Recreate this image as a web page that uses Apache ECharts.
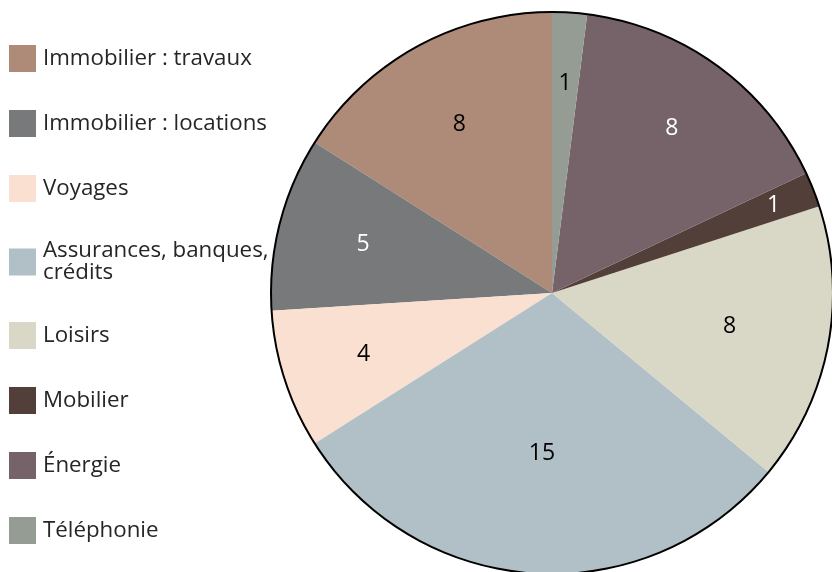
<!DOCTYPE html>
<html>
<head>
<meta charset="utf-8">
<script src="https://cdn.jsdelivr.net/npm/echarts@6/dist/echarts.min.js"></script>
<style>html,body{margin:0;padding:0;background:#fff;}#c{width:832px;height:572px;}</style>
</head>
<body>
<div id="c"></div>
<script>
const categories = ['Immobilier : travaux', 'Immobilier : locations', 'Voyages', 'Assurances, banques, crédits', 'Loisirs', 'Mobilier', 'Énergie', 'Téléphonie'];
const values = [8, 5, 4, 15, 8, 1, 8, 1];
const colors = ['#AE8B78', '#78797B', '#F9E0D0', '#B1C0C7', '#D9D8C6', '#523F39', '#756369', '#959C93'];
const labelColors = ['#000', '#fff', '#000', '#000', '#000', '#fff', '#fff', '#000'];
const labelRadius = [0.67, 0.68, 0.69, 0.56, 0.63, 0.83, 0.71, 0.73];

const CX = 552, CY = 293, R = 281;
const chart = echarts.init(document.getElementById('c'), null, {renderer: 'canvas'});
const font = '"Open Sans", "Noto Sans", sans-serif';
chart.setOption({
  animation: false,
  legend: {
    orient: 'vertical',
    left: 4,
    top: 40,
    itemWidth: 27,
    itemHeight: 27,
    itemGap: 38,
    icon: 'rect',
    data: categories,
    selectedMode: false,
    formatter: function (name) {
      return name === 'Assurances, banques, crédits' ? 'Assurances, banques,\ncrédits' : name;
    },
    textStyle: {fontFamily: font, fontSize: 22.3, color: '#262626', lineHeight: 22, padding: [0, 0, 0, 2]}
  },
  series: [
    {
      type: 'pie',
      center: [CX, CY],
      radius: [0, R],
      startAngle: 90,
      clockwise: false,
      silent: true,
      data: categories.map((n, i) => ({
        name: n, value: values[i],
        itemStyle: {color: colors[i]},
        label: {color: labelColors[i]}
      })),
      itemStyle: {borderWidth: 0},
      label: {show: true, position: 'inside', formatter: '{c}', fontFamily: font, fontSize: 23},
      labelLine: {show: false},
      labelLayout: function (p) {
        const r = p.labelRect;
        const lx = r.x + r.width / 2, ly = r.y + r.height / 2;
        const k = labelRadius[p.dataIndex] / 0.5;
        return {x: CX + (lx - CX) * k, y: CY + (ly - CY) * k};
      }
    },
    {
      type: 'pie',
      center: [CX, CY],
      radius: [R - 1, R + 1],
      silent: true,
      label: {show: false},
      labelLine: {show: false},
      data: [{name: 'outline', value: 1, itemStyle: {color: '#000'}}]
    }
  ]
});
</script>
</body>
</html>
